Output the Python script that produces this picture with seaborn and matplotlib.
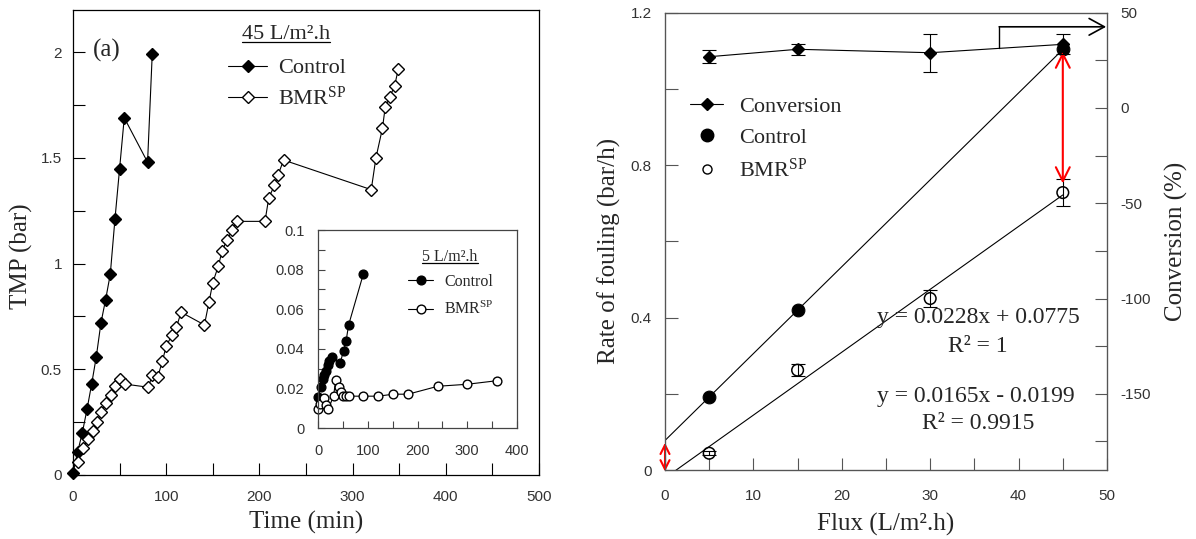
import numpy as np
import pandas as pd
import seaborn as sns
import matplotlib.pyplot as plt
from matplotlib.lines import Line2D
from matplotlib.ticker import MultipleLocator, FuncFormatter

# (a) TMP at 45 L/m2.h
ctrl_time = [0, 5, 10, 15, 20, 25, 30, 35, 40, 45, 50, 55, 80, 85]
ctrl_tmp = [0.01, 0.11, 0.2, 0.31, 0.43, 0.56, 0.72, 0.83, 0.95, 1.21, 1.45, 1.69, 1.48, 1.99]

bmr_time = [5, 11, 16, 21, 26, 30, 35, 41, 45, 50, 56, 81, 85, 91, 96, 100, 106, 111, 116,
            141, 146, 150, 156, 160, 165, 171, 176, 206, 210, 216, 220, 226,
            320, 325, 332, 335, 340, 345, 349]
bmr_tmp = [0.06, 0.13, 0.17, 0.21, 0.25, 0.3, 0.34, 0.38, 0.42, 0.455, 0.43, 0.415, 0.475, 0.465,
           0.54, 0.61, 0.66, 0.7, 0.77, 0.71, 0.82, 0.91, 0.99, 1.06, 1.11, 1.16, 1.2,
           1.2, 1.31, 1.37, 1.42, 1.49, 1.35, 1.5, 1.64, 1.74, 1.79, 1.84, 1.92]

# inset at 5 L/m2.h
ins_ctrl_time = [0, 5, 9, 12, 15, 19, 22, 27, 44, 51, 56, 61, 91]
ins_ctrl_tmp = [0.016, 0.021, 0.025, 0.027, 0.029, 0.032, 0.034, 0.036, 0.033, 0.039, 0.044, 0.052, 0.078]
ins_bmr_time = [0, 3, 12, 16, 20, 31, 35, 42, 46, 50, 56, 61, 91, 121, 151, 181, 241, 300, 360]
ins_bmr_tmp = [0.0095, 0.0125, 0.0155, 0.012, 0.0095, 0.0165, 0.0245, 0.021, 0.0185, 0.0165,
               0.0162, 0.0162, 0.0162, 0.0162, 0.0172, 0.0172, 0.0212, 0.0222, 0.024]

# (b) fouling rate and conversion vs flux
flux = [5, 15, 30, 45]
conversion = [26.9, 30.8, 29.0, 33.4]
conversion_err = [3.5, 2.8, 10.0, 5.3]
ctrl_flux = [5, 15, 45]
ctrl_rate = [0.1915, 0.4195, 1.1035]
bmr_rate = [0.044, 0.262, 0.45, 0.728]
bmr_rate_err = [0.005, 0.015, 0.022, 0.035]
fit_x = [0, 45]

serif = 'Liberation Serif'
sans = 'Liberation Sans'
tick_col = '#333333'

sns.set_style("ticks")
plt.rcParams['font.family'] = [serif, 'DejaVu Serif']
plt.rcParams['mathtext.fontset'] = 'custom'
plt.rcParams['mathtext.rm'] = serif
plt.rcParams['mathtext.it'] = serif + ':italic'
plt.rcParams['axes.unicode_minus'] = False
bmr_label = r'BMR$^{\rm SP}$'

fig = plt.figure(figsize=(11.96, 5.39), dpi=100)
ax = fig.add_axes([0.06104, 0.11874, 0.38963, 0.86271])
axin = fig.add_axes([0.26614, 0.20538, 0.16589, 0.36790])
axr = fig.add_axes([0.55602, 0.12801, 0.36957, 0.84842])
ax2 = axr.twinx()

fmt = FuncFormatter(lambda v, p: f"{v:g}")

def style_ticks(a, size, length, xpad, ypad, col='black'):
    a.tick_params(which='both', direction='in', length=length, width=0.8, color=col,
                  top=False, right=False, labelsize=size, labelcolor=tick_col)
    a.tick_params(axis='x', which='both', pad=xpad)
    a.tick_params(axis='y', which='both', pad=ypad)
    for lab in a.get_xticklabels() + a.get_yticklabels():
        lab.set_fontfamily(sans)
    for s in a.spines.values():
        s.set_color(col)
        s.set_linewidth(0.9)

# ---------------- (a) main ----------------
df_c = pd.DataFrame({'t': ctrl_time, 'tmp': ctrl_tmp})
df_b = pd.DataFrame({'t': bmr_time, 'tmp': bmr_tmp})
sns.lineplot(data=df_c, x='t', y='tmp', ax=ax, color='black', lw=0.8, marker='D', ms=5.8,
             mfc='black', mec='black', mew=1, estimator=None, sort=False, clip_on=False)
sns.lineplot(data=df_b, x='t', y='tmp', ax=ax, color='black', lw=0.8, marker='D', ms=5.8,
             mfc='white', mec='black', mew=1, estimator=None, sort=False, clip_on=False)
ax.set_xlim(0, 500)
ax.set_ylim(0, 2.2)
ax.xaxis.set_major_locator(MultipleLocator(100))
ax.xaxis.set_minor_locator(MultipleLocator(50))
ax.yaxis.set_major_locator(MultipleLocator(0.5))
ax.yaxis.set_minor_locator(MultipleLocator(0.25))
ax.xaxis.set_major_formatter(fmt)
ax.yaxis.set_major_formatter(fmt)
style_ticks(ax, 11, 8.5, 11, 8)
ax.set_xlabel('Time (min)', fontsize=18)
ax.set_ylabel('TMP (bar)', fontsize=18)
ax.xaxis.set_label_coords(0.5, -0.078)
ax.yaxis.set_label_coords(-0.085, 0.47)
ax.text(0.073, 0.914, '(a)', transform=ax.transAxes, fontsize=18, ha='center', va='center')

title_main = ax.text(0.457, 0.948, '45 L/m\u00b2.h', transform=ax.transAxes, fontsize=16,
                     ha='center', va='center')
h_main = [Line2D([], [], color='black', lw=0.8, marker='D', ms=5.8, mfc='black', mec='black'),
          Line2D([], [], color='black', lw=0.8, marker='D', ms=5.8, mfc='white', mec='black')]
ax.legend(h_main, ['Control', bmr_label], loc='upper left',
          bbox_to_anchor=(0.333, 0.897), frameon=False, fontsize=16,
          handlelength=1.75, handletextpad=0.5, labelspacing=0.38, borderpad=0,
          borderaxespad=0)

# ---------------- inset ----------------
axin.set_facecolor('white')
df_ic = pd.DataFrame({'t': ins_ctrl_time, 'tmp': ins_ctrl_tmp})
df_ib = pd.DataFrame({'t': ins_bmr_time, 'tmp': ins_bmr_tmp})
sns.lineplot(data=df_ic, x='t', y='tmp', ax=axin, color='black', lw=0.8, marker='o', ms=6.3,
             mfc='black', mec='black', mew=1, estimator=None, sort=False, clip_on=False)
sns.lineplot(data=df_ib, x='t', y='tmp', ax=axin, color='black', lw=0.8, marker='o', ms=6.3,
             mfc='white', mec='black', mew=1, estimator=None, sort=False, clip_on=False)
axin.set_xlim(0, 400)
axin.set_ylim(0, 0.1)
axin.xaxis.set_major_locator(MultipleLocator(100))
axin.xaxis.set_minor_locator(MultipleLocator(50))
axin.yaxis.set_major_locator(MultipleLocator(0.02))
axin.yaxis.set_minor_locator(MultipleLocator(0.01))
axin.xaxis.set_major_formatter(fmt)
axin.yaxis.set_major_formatter(fmt)
style_ticks(axin, 10.5, 5, 11, 10, col='#444444')
axin.set_xlabel('')
axin.set_ylabel('')
title_in = axin.text(0.664, 0.864, '5 L/m\u00b2.h', transform=axin.transAxes, fontsize=11.5,
                     ha='center', va='center')
h_in = [Line2D([], [], color='black', lw=0.8, marker='o', ms=6.3, mfc='black', mec='black'),
        Line2D([], [], color='black', lw=0.8, marker='o', ms=6.3, mfc='white', mec='black')]
axin.legend(h_in, ['Control', bmr_label], loc='upper left',
            bbox_to_anchor=(0.452, 0.78), frameon=False, fontsize=11.5,
            handlelength=1.57, handletextpad=0.7, labelspacing=0.7, borderpad=0,
            borderaxespad=0)

# ---------------- (b) ----------------
c_fit = np.polyfit(ctrl_flux, ctrl_rate, 1)
b_fit = np.polyfit(flux, bmr_rate, 1)
sns.lineplot(x=fit_x, y=np.polyval(c_fit, fit_x), ax=axr, color='black', lw=0.8)
sns.lineplot(x=fit_x, y=np.polyval(b_fit, fit_x), ax=axr, color='black', lw=0.8)
axr.errorbar(flux, bmr_rate, yerr=bmr_rate_err, fmt='none', ecolor='black', elinewidth=0.8,
             capsize=5, capthick=0.8)
sns.scatterplot(x=ctrl_flux, y=ctrl_rate, ax=axr, color='black', s=85, edgecolor='black',
                zorder=3)
sns.scatterplot(x=flux, y=bmr_rate, ax=axr, facecolor='none', s=70, edgecolor='black',
                linewidth=1.1, zorder=3)
axr.set_xlim(0, 50)
axr.set_ylim(0, 1.2)
axr.xaxis.set_major_locator(MultipleLocator(10))
axr.xaxis.set_minor_locator(MultipleLocator(5))
axr.yaxis.set_major_locator(MultipleLocator(0.4))
axr.yaxis.set_minor_locator(MultipleLocator(0.2))
axr.xaxis.set_major_formatter(fmt)
axr.yaxis.set_major_formatter(fmt)
style_ticks(axr, 11, 9, 14, 9.5, col='#555555')
axr.set_xlabel('Flux (L/m\u00b2.h)', fontsize=18)
axr.set_ylabel('Rate of fouling (bar/h)', fontsize=18)
axr.xaxis.set_label_coords(0.5, -0.093)
axr.yaxis.set_label_coords(-0.1, 0.48)

df_conv = pd.DataFrame({'flux': flux, 'conv': conversion})
ax2.errorbar(flux, conversion, yerr=conversion_err, fmt='none', ecolor='black', elinewidth=0.8,
             capsize=5, capthick=0.8)
sns.lineplot(data=df_conv, x='flux', y='conv', ax=ax2, color='black', lw=0.8, marker='D',
             ms=6.6, mfc='black', mec='black', mew=1, estimator=None)
ax2.set_ylim(-190, 50)
ax2.yaxis.set_major_locator(MultipleLocator(50))
ax2.yaxis.set_minor_locator(MultipleLocator(25))
ax2.tick_params(which='both', direction='in', length=9, width=0.8, color='#555555',
                labelsize=11, labelcolor=tick_col, pad=9.5, right=True, left=False)
for lab in ax2.get_yticklabels():
    lab.set_fontfamily(sans)
for s in ax2.spines.values():
    s.set_color('#555555')
ax2.set_ylabel('Conversion (%)', fontsize=18)
ax2.yaxis.set_label_coords(1.13, 0.5)

# fit equations
axr.text(35.5, 0.399, 'y = 0.0228x + 0.0775', fontsize=17, ha='center', va='center')
axr.text(35.4, 0.324, 'R\u00b2 = 1', fontsize=17, ha='center', va='center')
axr.text(35.2, 0.192, 'y = 0.0165x - 0.0199', fontsize=17, ha='center', va='center')
axr.text(35.4, 0.1226, 'R\u00b2 = 0.9915', fontsize=17, ha='center', va='center')

# arrows
red = dict(arrowstyle='<->,head_length=0.5,head_width=0.25', color='red', lw=1.5,
           mutation_scale=20, shrinkA=0, shrinkB=0)
red_small = dict(red, mutation_scale=13)
axr.annotate('', xy=(45, 0.752), xytext=(45, 1.098), arrowprops=red, annotation_clip=False)
axr.annotate('', xy=(0, -0.004), xytext=(0, 0.0717), arrowprops=red_small,
             annotation_clip=False)
ax2.plot([37.8, 37.8], [31.3, 42.6], color='black', lw=1)
ax2.annotate('', xy=(49.9, 42.6), xytext=(37.8, 42.6),
             arrowprops=dict(arrowstyle='->,head_length=0.55,head_width=0.3', color='black',
                             lw=1.2, mutation_scale=20, shrinkA=0, shrinkB=0))

h_r = [Line2D([], [], color='black', lw=0.8, marker='D', ms=6.6, mfc='black', mec='black'),
       Line2D([], [], ls='none', marker='o', ms=9, mfc='black', mec='black'),
       Line2D([], [], ls='none', marker='o', ms=6.5, mfc='white', mec='black')]
ax2.legend(h_r, ['Conversion', 'Control', bmr_label], loc='upper left',
           bbox_to_anchor=(0.0566, 0.817), frameon=False, fontsize=16, handlelength=1.5,
           handletextpad=0.7, labelspacing=0.48, borderpad=0, borderaxespad=0)

# underline legend titles
fig.canvas.draw()
inv = fig.transFigure.inverted()
for t in (title_main, title_in):
    bb = t.get_window_extent()
    (x0, y0), (x1, _) = inv.transform([(bb.x0, bb.y0 + 2), (bb.x1, bb.y0 + 2)])
    fig.add_artist(Line2D([x0, x1], [y0, y0], color='black', lw=0.9))

fig.savefig('out.png', dpi=100)
